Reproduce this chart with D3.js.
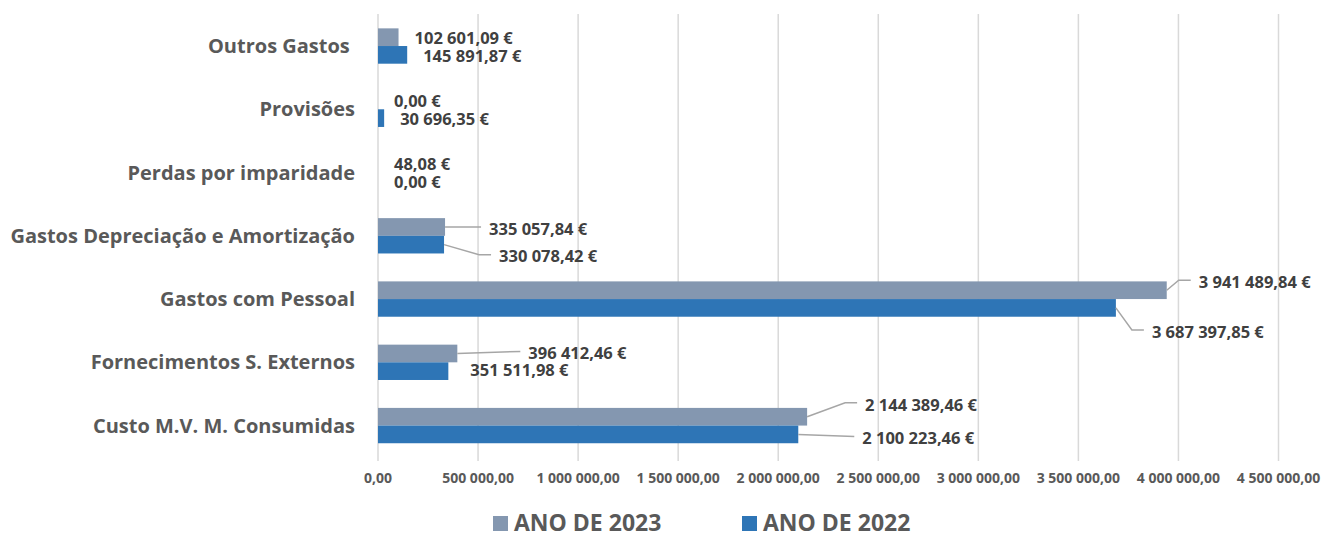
<!DOCTYPE html>
<html>
<head>
<meta charset="utf-8">
<script src="https://cdn.jsdelivr.net/npm/d3@7"></script>
<style>
  body { margin: 0; background: #fff; }
  svg { font-family: "Open Sans", sans-serif; font-weight: bold; }
</style>
</head>
<body>
<div id="chart"></div>
<script>
// data
const categories = ["Outros Gastos ", "Provisões", "Perdas por imparidade",
  "Gastos Depreciação e Amortização", "Gastos com Pessoal",
  "Fornecimentos S. Externos", "Custo M.V. M. Consumidas"];
const seriesNames = ["ANO DE 2023", "ANO DE 2022"];
const values2023 = [102601.09, 0, 48.08, 335057.84, 3941489.84, 396412.46, 2144389.46];
const values2022 = [145891.87, 30696.35, 0, 330078.42, 3687397.85, 351511.98, 2100223.46];
const xTicks = [0, 500000, 1000000, 1500000, 2000000, 2500000, 3000000, 3500000, 4000000, 4500000];

// label placement (dx from bar end, dy from bar centre, leader line on/off)
const labelPos2023 = [[16, 1, 0], [16, 1, 0], [16, 1, 0], [44, 2, 1], [32, -8, 1], [71, 0, 1], [58, -12, 1]];
const labelPos2022 = [[16, 1, 0], [16, 1, 0], [16, 1, 0], [55, 12, 1], [36, 24, 1], [22, -1, 0], [64, 4, 1]];

const colors = ["#8497B0", "#2E75B6"];
const W = 1322, H = 533;

const svg = d3.select("#chart").append("svg")
  .attr("width", W).attr("height", H);

const locale = d3.formatLocale({decimal: ",", thousands: "\u00a0", grouping: [3], currency: ["", " €"]});
const fmt = locale.format(",.2f");

const x = d3.scaleLinear().domain([0, 4500000]).range([378, 1278.5]);
const y0 = d3.scaleBand().domain(categories).range([14.4, 457.2]);
const y1 = d3.scaleBand().domain(seriesNames).range([0, y0.bandwidth()]).paddingOuter(0.79);

// gridlines
svg.append("g").selectAll("line")
  .data(xTicks)
  .join("line")
    .attr("x1", d => x(d)).attr("x2", d => x(d))
    .attr("y1", 14).attr("y2", 461)
    .attr("stroke", "#d9d9d9").attr("stroke-width", 1.5);

// x axis labels
svg.append("g").selectAll("text")
  .data(xTicks)
  .join("text")
    .attr("x", d => x(d)).attr("y", 483)
    .attr("text-anchor", "middle")
    .attr("font-size", 14)
    .attr("fill", "#595959")
    .text(d => fmt(d));

// category labels
svg.append("g").selectAll("text")
  .data(categories)
  .join("text")
    .attr("x", 355)
    .attr("y", d => y0(d) + y0.bandwidth() / 2)
    .attr("dy", "0.35em")
    .attr("text-anchor", "end")
    .attr("font-size", 20)
    .attr("fill", "#595959")
    .style("white-space", "pre")
    .text(d => d);

const series = [
  {name: seriesNames[0], values: values2023, pos: labelPos2023, color: colors[0]},
  {name: seriesNames[1], values: values2022, pos: labelPos2022, color: colors[1]}
];

series.forEach(s => {
  const rows = categories.map((c, i) => ({cat: c, v: s.values[i], p: s.pos[i]}));

  svg.append("g").selectAll("rect")
    .data(rows)
    .join("rect")
      .attr("x", x(0))
      .attr("y", d => y0(d.cat) + y1(s.name))
      .attr("width", d => x(d.v) - x(0))
      .attr("height", y1.bandwidth())
      .attr("fill", s.color);

  const cy = d => y0(d.cat) + y1(s.name) + y1.bandwidth() / 2;

  // leader lines
  svg.append("g").selectAll("path")
    .data(rows.filter(d => d.p[2]))
    .join("path")
      .attr("fill", "none")
      .attr("stroke", "#a6a6a6")
      .attr("stroke-width", 1.5)
      .attr("d", d => {
        const x0 = x(d.v), yb = cy(d);
        const lx = x0 + d.p[0], ly = yb + d.p[1] - 2;
        if (Math.abs(d.p[1]) < 6) return `M${x0},${yb}L${lx - 8},${ly}`;
        return `M${x0},${yb}L${lx - 20},${ly}L${lx - 8},${ly}`;
      });

  svg.append("g").selectAll("text")
    .data(rows)
    .join("text")
      .attr("x", d => x(d.v) + d.p[0])
      .attr("y", d => cy(d) + d.p[1])
      .attr("dy", "0.35em")
      .attr("font-size", 16.5)
      .attr("fill", "#404040")
      .text(d => fmt(d.v) + " €");
});

// legend
const legend = svg.append("g").selectAll("g")
  .data(series)
  .join("g")
    .attr("transform", (d, i) => `translate(${493 + i * 249},0)`);

legend.append("rect")
  .attr("x", 0).attr("y", 516)
  .attr("width", 15).attr("height", 15)
  .attr("fill", d => d.color);

legend.append("text")
  .attr("x", 21).attr("y", 531)
  .attr("font-size", 23)
  .attr("fill", "#595959")
  .text(d => d.name);
</script>
</body>
</html>
